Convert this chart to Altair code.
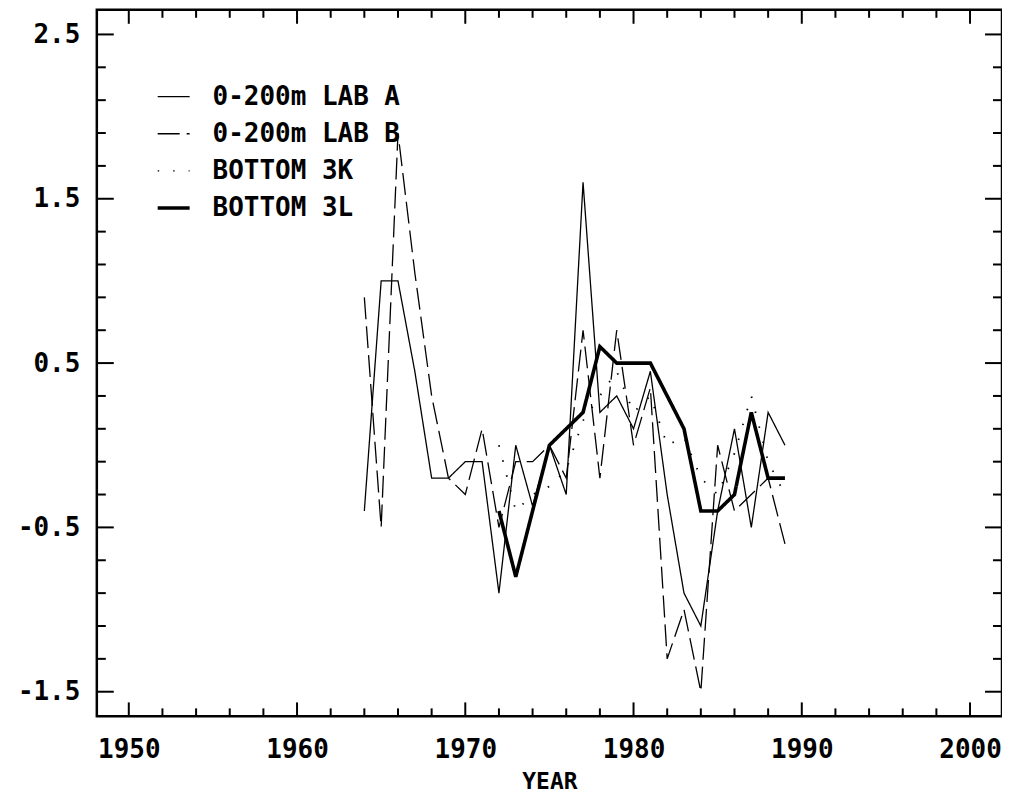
import altair as alt
import pandas as pd

# ---- data ----
series_names = ["0-200m LAB A", "0-200m LAB B", "BOTTOM 3K", "BOTTOM 3L"]

years_a = list(range(1964, 1990))
lab_a = [-0.4, 1.0, 1.0, 0.45, -0.2, -0.2, -0.1, -0.1, -0.9, 0.0, -0.37, 0.0, -0.3,
         1.6, 0.2, 0.3, 0.1, 0.45, -0.3, -0.9, -1.1, -0.4, 0.1, -0.5, 0.2, 0.0]

years_b = list(range(1964, 1990))
lab_b = [0.9, -0.5, 1.9, 1.05, 0.3, -0.2, -0.3, 0.1, -0.5, -0.1, -0.1, 0.0, -0.2,
         0.7, -0.2, 0.7, 0.0, 0.35, -1.3, -1.0, -1.5, 0.0, -0.4, -0.3, -0.2, -0.6]

years_3k = list(range(1972, 1990))
bottom_3k = [0.0, -0.4, -0.3, -0.25, -0.15, 0.15, 0.3, 0.45, 0.2, 0.3, 0.0, 0.05,
             -0.2, -0.3, -0.05, 0.3, -0.1, -0.3]

years_3l = list(range(1972, 1990))
bottom_3l = [-0.4, -0.8, -0.4, 0.0, 0.1, 0.2, 0.6, 0.5, 0.5, 0.5, 0.3, 0.1,
             -0.4, -0.4, -0.3, 0.2, -0.2, -0.2]

# line styles per series
dashes = [[1, 0], [22, 7], [1.5, 14], [1, 0]]
widths = [1.3, 1.3, 1.8, 3.6]

# tick positions / labels
x_major = [1950, 1960, 1970, 1980, 1990, 2000]
x_minor = [y for y in range(1950, 2001, 2) if y not in x_major]
y_major = [-1.5, -0.5, 0.5, 1.5, 2.5]
y_minor = [round(-1.3 + 0.2 * i, 1) for i in range(20) if round(-1.3 + 0.2 * i, 1) not in y_major]

# ---- build table ----
rows = []
for i, (ys, vs) in enumerate([(years_a, lab_a), (years_b, lab_b),
                              (years_3k, bottom_3k), (years_3l, bottom_3l)]):
    for y, v in zip(ys, vs):
        rows.append({"series": series_names[i], "year": y, "value": v, "sw": widths[i]})
df = pd.DataFrame(rows)

W, H = 907, 708
FONT = "DejaVu Sans Mono"
xdom = [1948.1, 2001.9]
ydom = [-1.65, 2.65]
xs = alt.Scale(domain=xdom, nice=False, zero=False)
ys_ = alt.Scale(domain=ydom, nice=False, zero=False)

x_axis = alt.Axis(values=x_major, format="d", tickSize=0, domain=False, grid=False,
                  labelFont=FONT, labelFontSize=26, labelFontWeight="bold",
                  labelColor="black", labelPadding=20,
                  title="YEAR", titleFont=FONT, titleFontSize=23,
                  titleFontWeight="bold", titleColor="black", titlePadding=8)
y_axis = alt.Axis(values=y_major, tickSize=0, domain=False, grid=False,
                  labelExpr="datum.value < 0 ? '-' + format(-datum.value, '.1f') : format(datum.value, '.1f')",
                  labelFont=FONT, labelFontSize=26, labelFontWeight="bold",
                  labelColor="black", labelPadding=17, title=None)

leg = alt.Legend(orient="none", legendX=64, legendY=74, title=None,
                 symbolType="stroke", symbolSize=1024, symbolStrokeColor="black",
                 symbolStrokeWidth=alt.ExprRef(expr="datum.value === 'BOTTOM 3L' ? 3.6 : 1.4"),
                 labelFont=FONT, labelFontSize=26, labelFontWeight="bold",
                 labelColor="black", labelOffset=26, rowPadding=11.2, padding=0,
                 labelLimit=500)

lines = alt.Chart(df).mark_line(color="black", strokeCap="butt", strokeJoin="miter").encode(
    x=alt.X("year:Q", scale=xs, axis=x_axis),
    y=alt.Y("value:Q", scale=ys_, axis=y_axis),
    strokeDash=alt.StrokeDash("series:N",
                              scale=alt.Scale(domain=series_names, range=dashes),
                              legend=leg),
    strokeWidth=alt.StrokeWidth("sw:Q", scale=None, legend=None),
    order=alt.Order("year:Q"),
)

def xticks(vals, length):
    d = pd.DataFrame({"year": vals})
    bottom = alt.Chart(d).mark_rule(color="black", strokeWidth=2).encode(
        x=alt.X("year:Q", scale=xs, axis=x_axis), y=alt.value(H), y2=alt.value(H - length))
    top = alt.Chart(d).mark_rule(color="black", strokeWidth=2).encode(
        x=alt.X("year:Q", scale=xs, axis=x_axis), y=alt.value(0), y2=alt.value(length))
    return [bottom, top]

def yticks(vals, length):
    d = pd.DataFrame({"value": vals})
    left = alt.Chart(d).mark_rule(color="black", strokeWidth=2).encode(
        y=alt.Y("value:Q", scale=ys_, axis=y_axis), x=alt.value(0), x2=alt.value(length))
    right = alt.Chart(d).mark_rule(color="black", strokeWidth=2).encode(
        y=alt.Y("value:Q", scale=ys_, axis=y_axis), x=alt.value(W), x2=alt.value(W - length))
    return [left, right]

layers = [lines] + xticks(x_major, 14) + xticks(x_minor, 8) + yticks(y_major, 17) + yticks(y_minor, 9)

chart = alt.layer(*layers).properties(
    width=W, height=H,
    background="white",
    autosize=alt.AutoSizeParams(type="none"),
    padding={"left": 89, "top": 1, "right": 0, "bottom": 80},
).configure_view(stroke="black", strokeWidth=2.5)

chart.save("out.html", embed_options={"renderer": "svg", "actions": False})
